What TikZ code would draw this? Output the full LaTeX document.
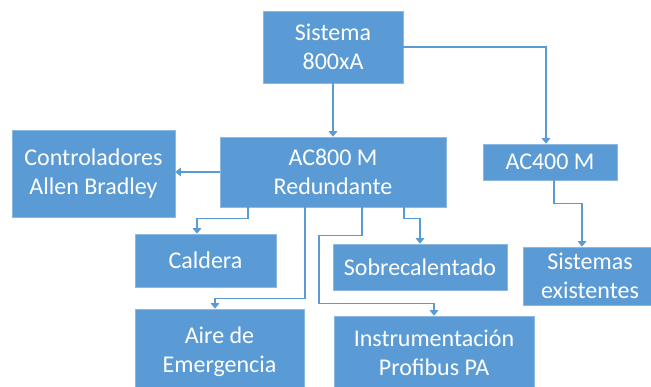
\documentclass[tikz,border=0pt]{standalone}
\usepackage{fontspec}
\setmainfont{Carlito}
\usetikzlibrary{arrows.meta,calc}
\definecolor{obox}{HTML}{5B9BD5}
\tikzset{
  box/.style={fill=obox, draw=obox!70!white, line width=0.6pt, text=white, align=center, inner sep=0pt,
     font=\fontsize{24}{29.3}\selectfont},
  conn/.style={draw=obox, line width=1.3pt, -{Triangle[width=8.5pt,length=5.5pt]}}
}
\begin{document}
\begin{tikzpicture}[x=1pt,y=-1pt]
\useasboundingbox (0,0) rectangle (651,387);
\node[box, minimum width=140pt, minimum height=72pt] (sys) at (333,47) {Sistema\\800xA};
\node[box, minimum width=226pt, minimum height=70pt] (ac8) at (333,172) {AC800 M\\Redundante};
\node[box, minimum width=163pt, minimum height=87pt] (ctl) at (93.5,173.5) {Controladores\\Allen Bradley};
\node[box, minimum width=134pt, minimum height=36pt] (ac4) at (550,162) {AC400 M};
\node[box, minimum width=141pt, minimum height=53pt] (cal) at (205.5,260.5) {Caldera};
\node[box, minimum width=174pt, minimum height=46pt] (sob) at (420,267) {Sobrecalentado};
\node[box, minimum width=134pt, minimum height=58pt] (sis) at (590,276) {Sistemas\\existentes};
\node[box, minimum width=169pt, minimum height=86pt] (aire) at (219.5,352) {Aire de\\Emergencia};
\node[box, minimum width=200pt, minimum height=74pt] (ins) at (434,353) {Instrumentación\\Profibus PA};

\draw[conn] (sys) -- (ac8);
\draw[conn] (sys.east) -| ([xshift=-4pt]ac4.north);
\draw[conn] (ac8.west) -- (ac8.west -| ctl.east);
\draw[conn] ([xshift=-85pt]ac8.south) -- ++(0,11) -| ([xshift=-8.5pt]cal.north);
\draw[conn] ([xshift=-28pt]ac8.south) -- ++(0,91) -| ([xshift=-4.5pt]aire.north);
\draw[conn] ([xshift=29pt]ac8.south) -- ++(0,28) -- ++(-43,0) |- ($(ins.north)+(0,-12)$) -- (ins.north);
\draw[conn] ([xshift=71pt]ac8.south) -- ++(0,11) -| (sob.north);
\draw[conn] ([xshift=4pt]ac4.south) -- ++(0,23) -| ([xshift=-8pt]sis.north);
\end{tikzpicture}
\end{document}
